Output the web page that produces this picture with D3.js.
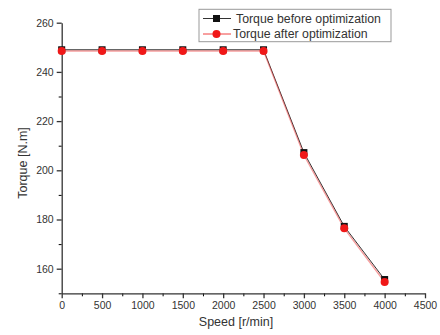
<!DOCTYPE html>
<html>
<head>
<meta charset="utf-8">
<script src="https://cdn.jsdelivr.net/npm/d3@7"></script>
<style>
  body { margin: 0; background: #fff; }
  svg { font-family: "Liberation Sans", Arial, sans-serif; }
</style>
</head>
<body>
<div id="chart"></div>
<script>
// data
const speed = [0, 500, 1000, 1500, 2000, 2500, 3000, 3500, 4000];
const torqueBefore = [249, 249, 249, 249, 249, 249, 207.2, 177.2, 155.6];
const torqueAfter = [248.5, 248.5, 248.5, 248.5, 248.5, 248.5, 206.2, 176.4, 154.6];
const xTicks = [0, 500, 1000, 1500, 2000, 2500, 3000, 3500, 4000, 4500];
const yTicks = [160, 180, 200, 220, 240, 260];

const width = 440, height = 335;
const MARGIN = { top: 22.7, right: 15, bottom: 41.7, left: 61.7 };
const gW = 425 - MARGIN.left;
const gH = 293.3 - MARGIN.top;

const svg = d3.select('#chart').append('svg')
    .attr('width', width)
    .attr('height', height);

const g = svg.append('g')
    .attr('transform', `translate(${MARGIN.left},${MARGIN.top})`);

const x = d3.scaleLinear().domain([0, 4500]).range([0, gW]);
const y = d3.scaleLinear().domain([150, 260]).range([gH, 0]);

// minor ticks
g.append('g')
    .attr('transform', `translate(0,${gH})`)
    .call(d3.axisBottom(x).tickValues(d3.range(250, 4500, 500)).tickSize(3).tickFormat(''))
    .call(s => s.select('.domain').remove());
g.append('g')
    .call(d3.axisLeft(y).tickValues(d3.range(170, 260, 20).concat([150])).tickSize(3).tickFormat(''))
    .call(s => s.select('.domain').remove());

// X AXIS
const xAxis = g.append('g')
    .attr('transform', `translate(0,${gH})`)
    .call(d3.axisBottom(x).tickValues(xTicks).tickFormat(d3.format('d'))
        .tickSize(5).tickSizeOuter(0).tickPadding(3));

// Y AXIS
const yAxis = g.append('g')
    .call(d3.axisLeft(y).tickValues(yTicks).tickFormat(d3.format('d'))
        .tickSize(5).tickSizeOuter(0).tickPadding(3));

[xAxis, yAxis].forEach(a => {
    a.selectAll('text').attr('font-size', 10.5).attr('fill', '#333').attr('font-family', '"Liberation Sans", Arial, sans-serif');
    a.selectAll('line, path').attr('stroke', '#333').attr('stroke-width', 1.3);
});

// axis titles
svg.append('text')
    .attr('x', 236).attr('y', 326)
    .attr('text-anchor', 'middle')
    .attr('font-size', 12.5).attr('fill', '#333')
    .text('Speed [r/min]');
svg.append('text')
    .attr('transform', `translate(27,163) rotate(-90)`)
    .attr('text-anchor', 'middle')
    .attr('font-size', 12.5).attr('fill', '#333')
    .text('Torque [N.m]');

// lines
const line = d3.line().x(d => x(d[0])).y(d => y(d[1]));
const before = speed.map((s, i) => [s, torqueBefore[i]]);
const after = speed.map((s, i) => [s, torqueAfter[i]]);

g.append('path').datum(before)
    .attr('d', line).attr('fill', 'none')
    .attr('stroke', '#333').attr('stroke-width', 1);
g.append('path').datum(after)
    .attr('d', line).attr('fill', 'none')
    .attr('stroke', '#f04040').attr('stroke-width', 1.4).attr('stroke-opacity', 0.5);

g.selectAll('.sq').data(before).enter().append('rect')
    .attr('class', 'sq')
    .attr('x', d => x(d[0]) - 3.5).attr('y', d => y(d[1]) - 3.5)
    .attr('width', 7).attr('height', 7)
    .attr('fill', '#111');
g.selectAll('.dot').data(after).enter().append('circle')
    .attr('class', 'dot')
    .attr('cx', d => x(d[0])).attr('cy', d => y(d[1]))
    .attr('r', 4)
    .attr('fill', '#f01818');

// legend
const lg = svg.append('g');
lg.append('rect')
    .attr('x', 199).attr('y', 9.3).attr('width', 192).attr('height', 32.4)
    .attr('fill', '#fff').attr('stroke', '#999').attr('stroke-width', 1);
const legendItems = [
    { label: 'Torque before optimization', color: '#333', y: 18.5, tx: 236 },
    { label: 'Torque after optimization', color: '#f04040', y: 34, tx: 233 }
];
legendItems.forEach((d, i) => {
    lg.append('line')
        .attr('x1', 203).attr('x2', 231).attr('y1', d.y).attr('y2', d.y)
        .attr('stroke', d.color).attr('stroke-width', 1);
    if (i === 0) {
        lg.append('rect').attr('x', 213).attr('y', d.y - 3.5).attr('width', 7).attr('height', 7).attr('fill', '#111');
    } else {
        lg.append('circle').attr('cx', 216.5).attr('cy', d.y).attr('r', 4).attr('fill', '#f01818');
    }
    lg.append('text')
        .attr('x', d.tx).attr('y', d.y + 4.3)
        .attr('font-size', 12.3).attr('fill', '#333')
        .text(d.label);
});
</script>
</body>
</html>
